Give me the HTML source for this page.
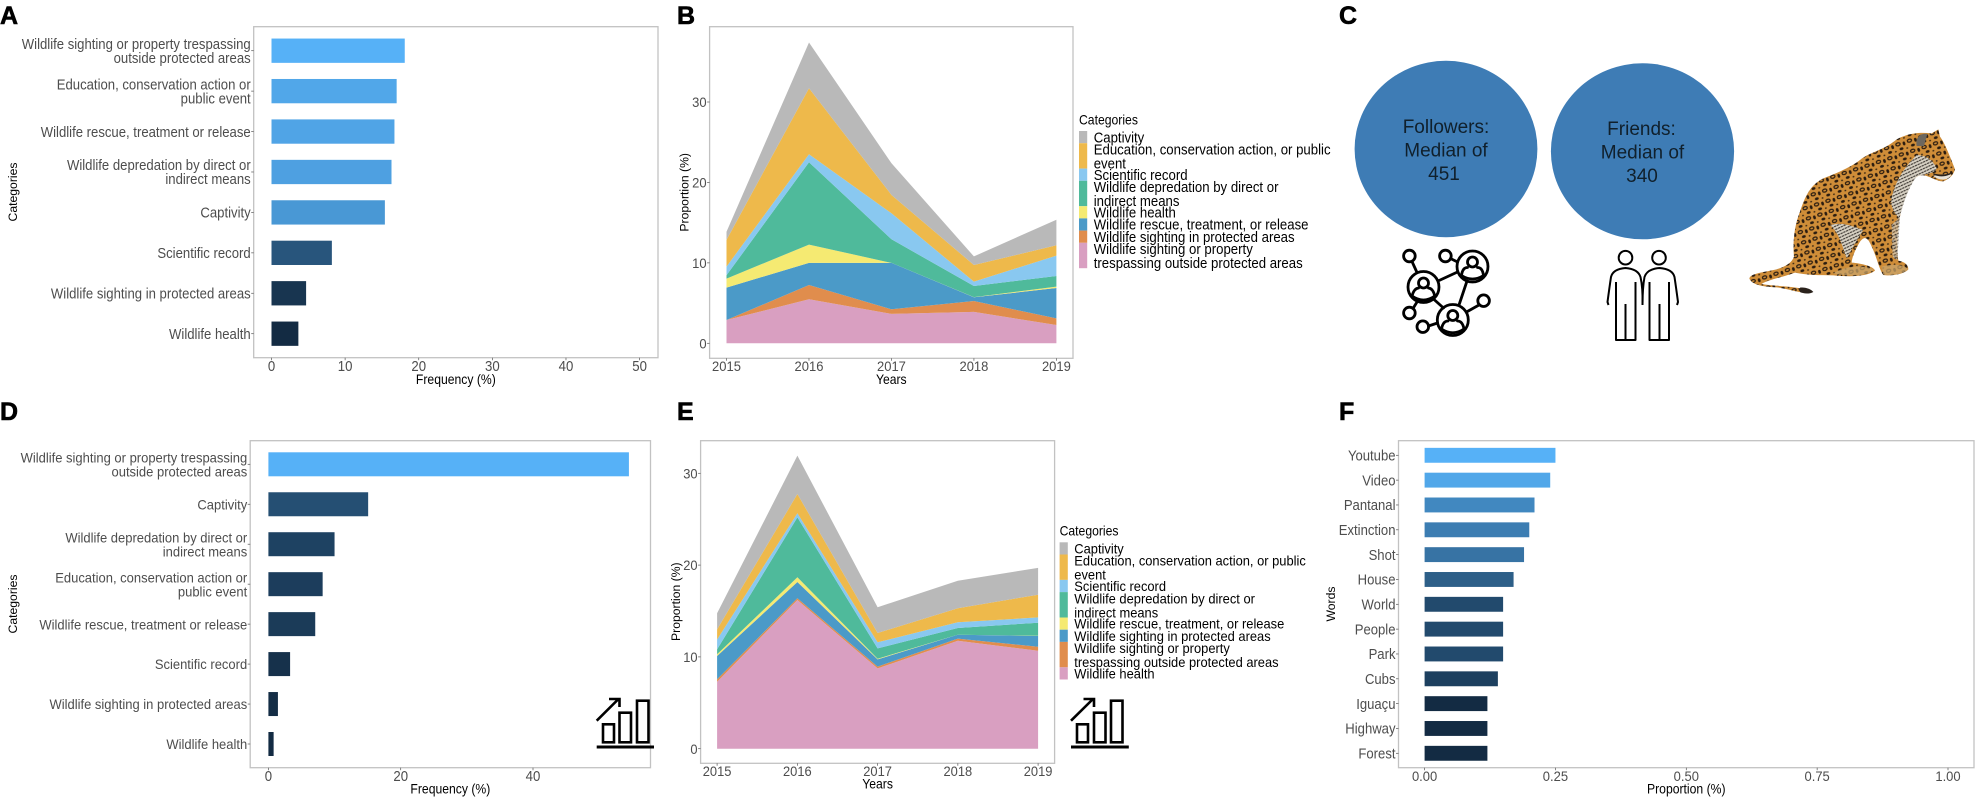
<!DOCTYPE html>
<html lang="en">
<head>
<meta charset="utf-8">
<title>Jaguar social media categories</title>
<style>
html,body{margin:0;padding:0;background:#fff;width:1975px;height:802px;overflow:hidden}
svg{display:block;font-family:"Liberation Sans",Arial,sans-serif}
.letter{font-weight:700;font-size:25px;fill:#000;stroke:#000;stroke-width:.6}
.cir{font-size:19px;fill:#10202c;text-anchor:middle}
</style>
</head>
<body>
<svg id="figure" xmlns="http://www.w3.org/2000/svg" width="1975" height="802" viewBox="0 0 1975 802">
<defs>
<pattern id="spots" width="36" height="32" patternUnits="userSpaceOnUse" patternTransform="rotate(-18)">
<rect width="36" height="32" fill="#cf8d38"/>
<ellipse cx="8" cy="7" rx="6.5" ry="4.5" fill="none" stroke="#2a1c10" stroke-width="3.8"/>
<ellipse cx="26" cy="10" rx="4" ry="6" fill="#2a1c10"/>
<ellipse cx="14" cy="23" rx="6" ry="4" fill="#2a1c10"/>
<ellipse cx="31" cy="26" rx="3" ry="2.4" fill="#3a2814"/>
</pattern>
<pattern id="stripes" width="9" height="9" patternUnits="userSpaceOnUse" patternTransform="rotate(-25)">
<rect width="9" height="9" fill="#d8d2c4"/>
<rect y="2" width="7" height="3" fill="#2a2420"/>
</pattern>
</defs>
<rect width="1975" height="802" fill="#fff"/>

<g id="panel-a"></g>
<g id="panel-b"></g>
<g id="panel-d"></g>
<g id="panel-e"></g>
<g id="panel-f"></g>

<text class="letter" x="0" y="24">A</text>
<text class="letter" x="677" y="24">B</text>
<text class="letter" x="1339" y="24">C</text>
<text class="letter" x="0" y="420">D</text>
<text class="letter" x="677" y="420">E</text>
<text class="letter" x="1339" y="420">F</text>

<g>
<ellipse cx="1446" cy="149" rx="91.4" ry="88.2" fill="#3e7cb5"/>
<text class="cir" x="1446" y="133">Followers:</text>
<text class="cir" x="1446" y="156.500">Median of</text>
<text class="cir" x="1444" y="180">451</text>
</g>
<g>
<ellipse cx="1642.500" cy="151.300" rx="91.600" ry="88" fill="#3e7cb5"/>
<text class="cir" x="1641.500" y="135">Friends:</text>
<text class="cir" x="1642.500" y="158.500">Median of</text>
<text class="cir" x="1642" y="182">340</text>
</g>

<g fill="none" stroke="#000" stroke-width="2.800" stroke-linecap="round">
<circle cx="1423.500" cy="287" r="15.500"/>
<circle cx="1472.500" cy="266.500" r="15.500"/>
<circle cx="1452.800" cy="320" r="15.500"/>
<circle cx="1409.400" cy="256" r="5.800"/>
<circle cx="1445.400" cy="256" r="5.800"/>
<circle cx="1483.600" cy="300.700" r="5.800"/>
<circle cx="1409.400" cy="313" r="5.800"/>
<circle cx="1422.800" cy="326.700" r="5.800"/>
<path d="M1412 261.500L1417 272.500M1450.500 258.500L1457.500 262M1438 281L1457.500 272M1467 281L1459 305M1433.500 299L1443.500 308M1479 305L1466.500 312M1413 308.500L1417 302M1428.500 326L1437.500 323"/>
<circle cx="1423.500" cy="283" r="5"/>
<path d="M1412 296Q1414 288.500 1418.500 288M1434.800 296Q1433 288.500 1428.500 288"/>
<path d="M1412 296Q1423.500 304 1434.800 296"/>
<circle cx="1472.500" cy="262" r="5"/>
<path d="M1461.500 275.500Q1462.500 267.500 1467.500 267.500M1483.500 275.500Q1482.500 267.500 1477.500 267.500"/>
<path d="M1461.500 275.500Q1472.500 282.500 1483.500 275.500"/>
<circle cx="1452.800" cy="315.500" r="5"/>
<path d="M1441.500 329Q1443 321 1448 321M1464 329Q1462.500 321 1457.500 321"/>
<path d="M1441.500 329Q1452.800 336.500 1464 329"/>
</g>

<g fill="none" stroke="#000" stroke-width="2" stroke-linejoin="round">
<circle cx="1625.500" cy="257.700" r="6.800"/>
<circle cx="1659" cy="257.700" r="6.800"/>
<path d="M1608.500 305L1607.500 302Q1609.500 287 1611 277Q1613 269 1625.500 268Q1638 269 1640.500 277Q1643 288 1642.500 305"/>
<path d="M1616 282V340H1635.500V282"/>
<path d="M1625.500 304V340"/>
<path d="M1677 305L1678 302Q1676 287 1674.500 277Q1672.500 269 1659.500 268Q1647 269 1644.500 277Q1642.500 288 1642.500 305"/>
<path d="M1649.500 282V340H1669V282"/>
<path d="M1659.500 304V340"/>
</g>

<g transform="translate(1720 110) scale(.33333)">
<path id="jag-body" fill="url(#spots)" d="M278 545C250 555 215 538 170 532C130 530 95 525 88 505C92 490 130 487 170 478C195 470 215 460 222 440C218 400 222 350 240 305C255 260 270 225 310 205C350 190 395 170 420 150C450 125 490 122 530 88C560 72 590 66 635 70L655 58L660 80C675 100 690 140 705 178C700 195 690 205 670 214C655 215 640 205 620 198C600 192 590 198 580 210C565 235 550 270 540 320C530 370 530 420 535 452C550 455 565 462 565 478C550 495 510 498 490 495C478 480 470 440 455 410C445 385 435 375 420 395C405 420 395 445 395 458C425 460 462 470 465 482C440 502 380 500 340 496C300 496 255 495 225 488C195 500 140 510 125 522C170 530 240 528 278 545Z"/>
<path fill="url(#stripes)" d="M590 135C615 135 640 150 650 175C640 195 610 190 590 200C570 225 552 270 538 325C520 305 505 285 520 245C535 195 565 160 590 135Z"/>
<path fill="url(#stripes)" d="M330 345C370 335 400 350 430 360C410 390 395 420 380 445C370 420 360 370 330 345Z"/>
<path fill="url(#stripes)" opacity=".7" d="M515 345L540 320L532 450L518 440Z"/>
<path fill="#c9a46a" opacity=".75" d="M340 490C370 470 420 462 462 478C440 500 380 500 340 490ZM485 470C510 462 550 460 565 478C545 495 510 497 490 494Z"/>
<path fill="#2a221c" d="M240 533C255 530 275 538 280 546C265 554 248 550 240 546Z"/>
<path fill="#6d675e" d="M590 108C585 85 600 68 622 72L612 108Z"/>
<path fill="#e9e3d8" d="M640 198C660 192 685 192 694 194C685 212 660 214 640 198Z"/>
<path fill="#2a221c" d="M640 190C660 195 680 195 692 188L690 194C670 202 655 200 640 194Z"/>
</g>

<g id="stat-icon-d" fill="none" stroke="#000" stroke-width="2.600">
<path d="M596.700 747H654" stroke-width="3"/>
<rect x="603" y="724.300" width="11" height="18"/>
<rect x="619.500" y="712.700" width="11.500" height="29.600"/>
<rect x="637" y="700.700" width="11.500" height="41.600"/>
<path d="M596.700 720.700L618 699.500M609 699H619.500V707"/>
</g>
<g id="stat-icon-e" fill="none" stroke="#000" stroke-width="2.600">
<path d="M1071 747H1128.800" stroke-width="3"/>
<rect x="1077" y="724.300" width="11" height="18"/>
<rect x="1094" y="712.700" width="11.500" height="29.600"/>
<rect x="1111" y="700.700" width="11.500" height="41.600"/>
<path d="M1071 720.700L1092.500 699.500M1083.500 699H1094V707"/>
</g>

<script>
// ---- Panel A data ----
const aCategories = ["Wildlife sighting or property trespassing\noutside protected areas","Education, conservation action or\npublic event","Wildlife rescue, treatment or release","Wildlife depredation by direct or\nindirect means","Captivity","Scientific record","Wildlife sighting in protected areas","Wildlife health"];
const aValues = [18.1,17.0,16.7,16.3,15.4,8.2,4.7,3.65];
const aTicks = [0,10,20,30,40,50];
// ---- Panel D data ----
const dCategories = ["Wildlife sighting or property trespassing\noutside protected areas","Captivity","Wildlife depredation by direct or\nindirect means","Education, conservation action or\npublic event","Wildlife rescue, treatment or release","Scientific record","Wildlife sighting in protected areas","Wildlife health"];
const dValues = [54.5,15.08,10.0,8.2,7.08,3.28,1.44,0.79];
const dTicks = [0,20,40];
// ---- Panel F data ----
const fWords = ["Youtube","Video","Pantanal","Extinction","Shot","House","World","People","Park","Cubs","Iguaçu","Highway","Forest"];
const fValues = [0.25,0.24,0.21,0.20,0.19,0.17,0.15,0.15,0.15,0.14,0.12,0.12,0.12];
const fTicks = [0,0.25,0.5,0.75,1];
const fTickLabels = ["0.00","0.25","0.50","0.75","1.00"];
// ---- Panel B data (stack order bottom to top) ----
const years = [2015,2016,2017,2018,2019];
const bTrespassing = [2.9,5.47,3.65,3.9,2.28];
const bSighting = [0,1.78,0.58,1.36,0.82];
const bRescue = [4.02,2.75,5.77,0.46,3.78];
const bHealth = [1.12,2.27,0,0.03,0.17];
const bDepredation = [0.41,10.23,2.93,1.38,1.32];
const bScientific = [1.08,1.0,3.23,0.54,2.53];
const bEducation = [3.32,8.2,2.28,2.07,1.28];
const bCaptivity = [1.03,5.7,3.94,1.06,3.19];
const bYTicks = [0,10,20,30];
const bLegend = ["Captivity","Education, conservation action, or public\nevent","Scientific record","Wildlife depredation by direct or\nindirect means","Wildlife health","Wildlife rescue, treatment, or release","Wildlife sighting in protected areas","Wildlife sighting or property\ntrespassing outside protected areas"];
// ---- Panel E data (stack order bottom to top) ----
const eHealth = [7.3,16.2,8.75,11.77,10.68];
const eTrespassing = [0.26,0.18,0.19,0.22,0.42];
const eSighting = [2.54,1.78,0.79,0.43,1.18];
const eRescue = [0.18,0.51,0.07,0,0.02];
const eDepredation = [0.54,6.53,1.13,0.73,1.43];
const eScientific = [1.08,0.44,0.66,0.62,0.57];
const eEducation = [1.1,2.11,1.01,1.53,2.48];
const eCaptivity = [1.75,4.18,2.8,3.0,2.91];
const eYTicks = [0,10,20,30];
const eLegend = ["Captivity","Education, conservation action, or public\nevent","Scientific record","Wildlife depredation by direct or\nindirect means","Wildlife rescue, treatment, or release","Wildlife sighting in protected areas","Wildlife sighting or property\ntrespassing outside protected areas","Wildlife health"];

// ---- Styles ----
const STACK_COLORS = ["#d99fc1","#e08d4d","#4b9ac8","#f5ea72","#4fba9b","#89c8f0","#eeb94b","#b9b9b9"];
const LEGEND_COLORS = STACK_COLORS.slice().reverse();
const BORDER = "#c2c2c2", TICK_TEXT = "#4d4d4d", TICK_LINE = "#555";
const NS = "http://www.w3.org/2000/svg";
const SQUEEZE = 0.91;

function mk(parent, tag, attrs, txt) {
  const el = document.createElementNS(NS, tag);
  for (const k in attrs) el.setAttribute(k, attrs[k]);
  if (txt !== undefined) el.textContent = txt;
  parent.appendChild(el);
  return el;
}
// text that is taller than it is wide, like the reference: width stays that of "size", height is stretched
function label(parent, x, y, anchor, size, fill, txt) {
  const tall = size / SQUEEZE;
  return mk(parent, "text", { transform: "translate(" + x + " " + (y + (tall - size) * .36) + ") scale(" + SQUEEZE + " 1)", "text-anchor": anchor, "font-size": tall, fill: fill }, txt);
}
function linScale(d0, d1, r0, r1) {
  return function (v) { return r0 + (v - d0) * (r1 - r0) / (d1 - d0); };
}
function mix(t) {
  const lo = [19, 43, 67], hi = [86, 177, 247];
  return "rgb(" + lo.map(function (c, i) { return Math.round(c + (hi[i] - c) * t); }).join(",") + ")";
}
function frame(g, c) {
  const r = mk(g, "rect", { x: c.left, y: c.top, width: c.right - c.left, height: c.bottom - c.top, fill: "none", stroke: BORDER, "stroke-width": 1.3 });
  
  
}
function xAxis(g, c, ticks, labels, sx) {
  ticks.forEach(function (t, i) {
    const x = sx(t);
    const tk = mk(g, "line", { x1: x, x2: x, y1: c.bottom, y2: c.bottom + 2.5, stroke: TICK_LINE, "stroke-width": .7 });
    
    
    const lb = label(g, x, c.xTickY, "middle", c.tickFont, TICK_TEXT, labels[i]);
    
    
  });
  const ti = label(g, (c.left + c.right) / 2, c.xTitleY, "middle", 12.2, "#000", c.xTitle);
  
  
}
function yTitle(g, c) {
  const ti = mk(g, "text", { transform: "translate(" + c.yTitleX + " " + c.yTitleY + ") rotate(-90)", "text-anchor": "middle", "font-size": 12.2, fill: "#000" }, c.yTitle);
  
  
}
function barPanel(id, c, cats, vals, ticks, tickLabels) {
  const g = document.getElementById(id);
  const sx = linScale(ticks[0], ticks[ticks.length - 1], c.x0, c.x1);
  const step = (c.lastY - c.firstY) / (cats.length - 1);
  const mn = Math.min.apply(null, vals), mx = Math.max.apply(null, vals);
  frame(g, c);
  cats.forEach(function (cat, i) {
    const cy = c.firstY + i * step;
    const b = mk(g, "rect", { x: sx(0), y: cy - c.barH / 2, width: sx(vals[i]) - sx(0), height: c.barH, fill: mix((vals[i] - mn) / (mx - mn)) });
    
    
    const tk = mk(g, "line", { x1: c.left - 2.5, x2: c.left, y1: cy, y2: cy, stroke: TICK_LINE, "stroke-width": .7 });
    
    
    const lines = cat.split("\n");
    lines.forEach(function (ln, j) {
      const ty = cy + (j - (lines.length - 1) / 2) * 14 + c.catFont * .36;
      const t = label(g, c.left - 3, ty, "end", c.catFont, TICK_TEXT, ln);
      
      
    });
  });
  xAxis(g, c, ticks, tickLabels, sx);
  yTitle(g, c);
}
function stackPanel(id, c, series, xs, yTicks, legend) {
  const g = document.getElementById(id);
  const sx = linScale(xs[0], xs[xs.length - 1], c.x0, c.x1);
  const sy = linScale(yTicks[0], yTicks[yTicks.length - 1], c.y0, c.y1);
  frame(g, c);
  let base = xs.map(function () { return 0; });
  series.forEach(function (vals, s) {
    const top = base.map(function (b, i) { return b + vals[i]; });
    const pts = [];
    xs.forEach(function (x, i) { pts.push(sx(x).toFixed(1) + "," + sy(top[i]).toFixed(1)); });
    for (let i = xs.length - 1; i >= 0; i--) pts.push(sx(xs[i]).toFixed(1) + "," + sy(base[i]).toFixed(1));
    const a = mk(g, "polygon", { points: pts.join(" "), fill: STACK_COLORS[s] });
    
    
    base = top;
  });
  yTicks.forEach(function (t) {
    const y = sy(t);
    const tk = mk(g, "line", { x1: c.left - 2.5, x2: c.left, y1: y, y2: y, stroke: TICK_LINE, "stroke-width": .7 });
    
    
    const lb = label(g, c.left - 3, y + c.tickFont * .36, "end", c.tickFont, TICK_TEXT, String(t));
    
    
  });
  xAxis(g, c, xs, xs.map(String), sx);
  yTitle(g, c);
  const lt = label(g, c.legX, c.legTitleY, "start", 12.2, "#000", "Categories");
  
  
  let ly = c.legTop;
  legend.forEach(function (name, i) {
    const lines = name.split("\n");
    const h = lines.length === 1 ? 12.2 : 25.4;
    const k = mk(g, "rect", { x: c.legX, y: ly, width: 8.2, height: h, fill: LEGEND_COLORS[i] });
    
    
    lines.forEach(function (ln, j) {
      const t = label(g, c.legX + 14.7, ly + 6.1 + j * 14 + c.legFont * .36, "start", c.legFont, "#000", ln);
      
      
    });
    ly += h;
  });
}

barPanel("panel-a", { left: 253.7, right: 658, top: 26.7, bottom: 357.7, x0: 271.5, x1: 639.6, firstY: 50.7, lastY: 333.7, barH: 24.3, catFont: 13.13, tickFont: 13.2, xTickY: 370.5, xTitleY: 383.5, xTitle: "Frequency (%)", yTitle: "Categories", yTitleX: 17, yTitleY: 192 }, aCategories, aValues, aTicks, aTicks.map(String));
barPanel("panel-d", { left: 250.2, right: 650.5, top: 440.7, bottom: 767.7, x0: 268.4, x1: 533, firstY: 464.3, lastY: 744, barH: 24, catFont: 13.0, tickFont: 13.2, xTickY: 780.5, xTitleY: 793, xTitle: "Frequency (%)", yTitle: "Categories", yTitleX: 17, yTitleY: 604 }, dCategories, dValues, dTicks, dTicks.map(String));
barPanel("panel-f", { left: 1398.5, right: 1974, top: 440.7, bottom: 767.7, x0: 1424.6, x1: 1948, firstY: 455.3, lastY: 753.3, barH: 14.9, catFont: 13.1, tickFont: 13, xTickY: 780.5, xTitleY: 793, xTitle: "Proportion (%)", yTitle: "Words", yTitleX: 1335, yTitleY: 604 }, fWords, fValues, fTicks, fTickLabels);
stackPanel("panel-b", { left: 709.6, right: 1073, top: 26.7, bottom: 358.3, x0: 726.5, x1: 1056.4, y0: 343.3, y1: 102, tickFont: 13, xTickY: 370.7, xTitleY: 383.5, xTitle: "Years", yTitle: "Proportion (%)", yTitleX: 688.5, yTitleY: 192.3, legX: 1079, legTitleY: 124, legTop: 131, legFont: 13.2 }, [bTrespassing, bSighting, bRescue, bHealth, bDepredation, bScientific, bEducation, bCaptivity], years, bYTicks, bLegend);
stackPanel("panel-e", { left: 700.6, right: 1054.6, top: 440.7, bottom: 763.3, x0: 717.1, x1: 1038.1, y0: 748.7, y1: 473.3, tickFont: 12.9, xTickY: 775.5, xTitleY: 788, xTitle: "Years", yTitle: "Proportion (%)", yTitleX: 680, yTitleY: 601.7, legX: 1059.6, legTitleY: 535.3, legTop: 542.3, legFont: 12.9 }, [eHealth, eTrespassing, eSighting, eRescue, eDepredation, eScientific, eEducation, eCaptivity], years, eYTicks, eLegend);
</script>
</svg>
</body>
</html>
